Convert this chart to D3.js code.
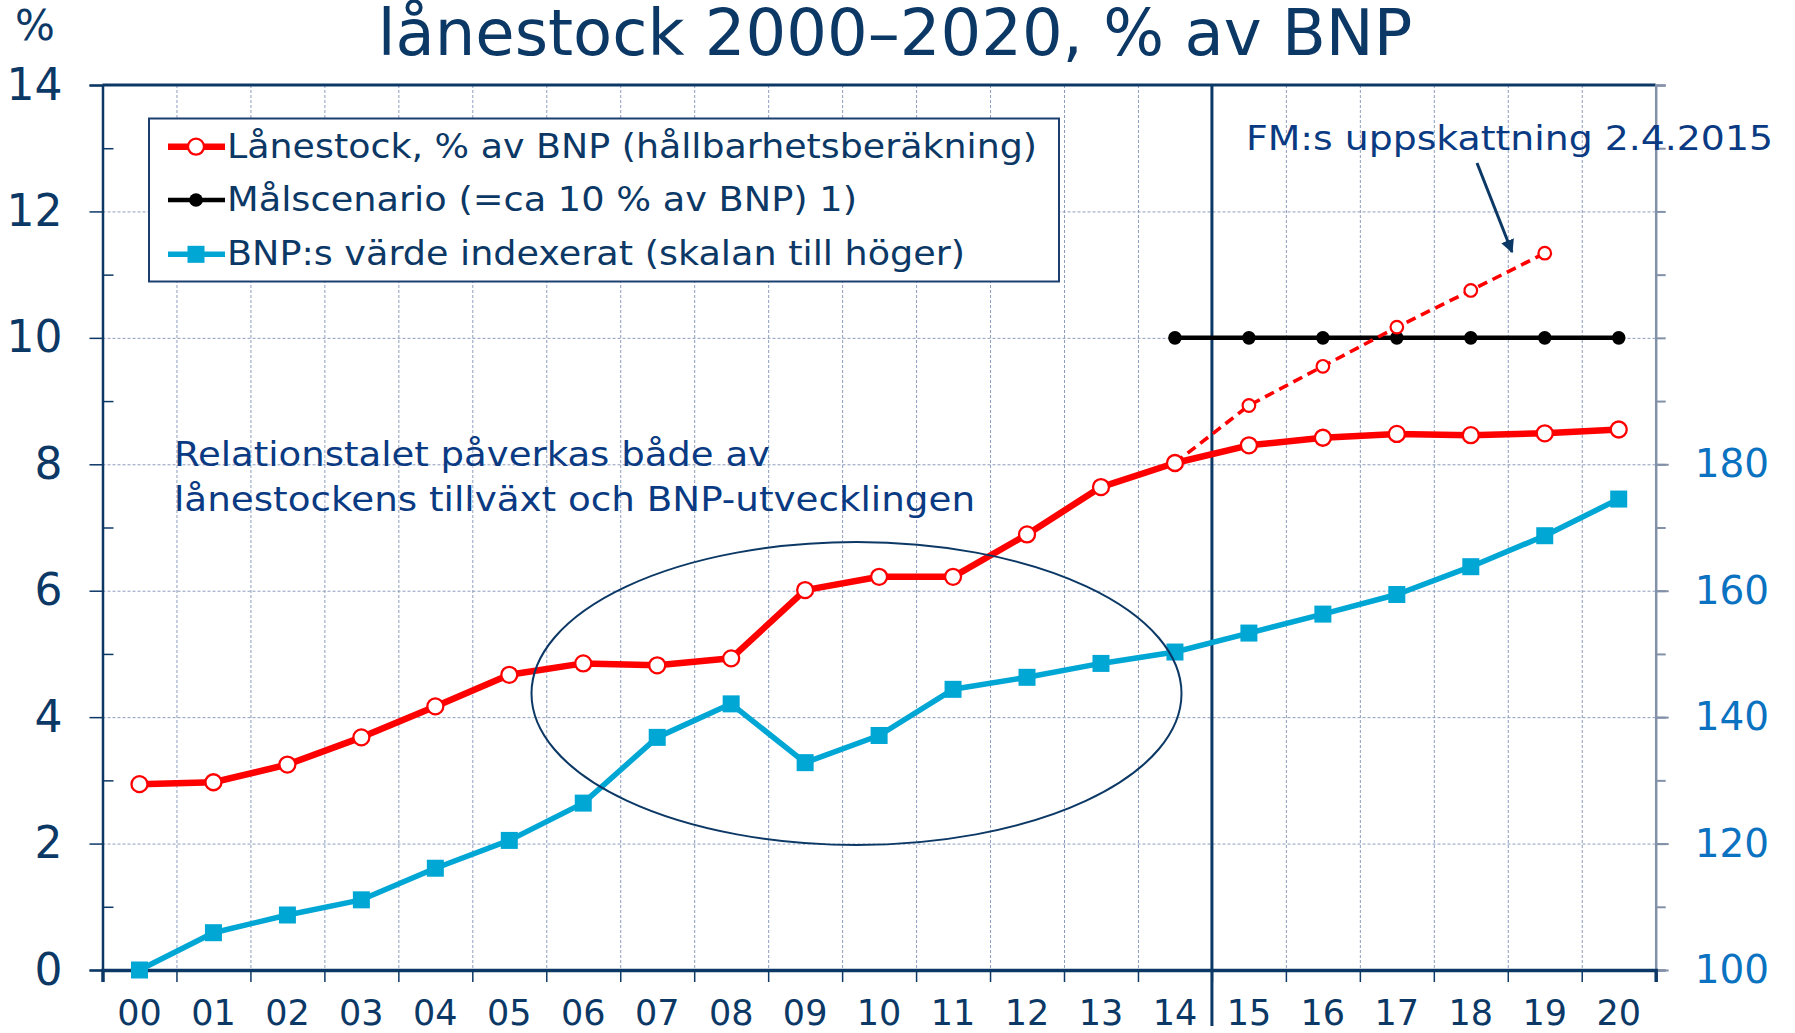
<!DOCTYPE html>
<html><head><meta charset="utf-8">
<script src="https://cdn.jsdelivr.net/npm/d3@7"></script>
<style>
html,body{margin:0;padding:0;background:#fff;}
svg{display:block;font-family:"DejaVu Sans",Verdana,sans-serif;}
</style></head>
<body>
<svg id="chart" width="1795" height="1033"></svg>
<script>
// ---- data ----
const years = ["00","01","02","03","04","05","06","07","08","09","10","11","12","13","14","15","16","17","18","19","20"];
const lanestock = [2.94,2.97,3.25,3.68,4.17,4.67,4.85,4.82,4.93,6.01,6.22,6.22,6.89,7.64,8.02,8.30,8.42,8.48,8.46,8.49,8.55];
const fmYears = ["14","15","16","17","18","19"];
const fmEstimate = [8.02,8.93,9.55,10.17,10.75,11.34];
const malYears = ["14","15","16","17","18","19","20"];
const malscenario = [10,10,10,10,10,10,10];
const bnpIndex = [100,105.9,108.7,111.1,116.1,120.5,126.4,136.8,142.1,132.8,137.1,144.4,146.3,148.5,150.3,153.3,156.3,159.4,163.8,168.7,174.5];
const leftTickLabels = [0,2,4,6,8,10,12,14];
const rightTickLabels = [100,120,140,160,180];
const legendLabels = ["Lånestock, % av BNP (hållbarhetsberäkning)","Målscenario (=ca 10 % av BNP) 1)","BNP:s värde indexerat (skalan till höger)"];
const titleText = "lånestock 2000–2020, % av BNP";
const noteLines = ["Relationstalet påverkas både av","lånestockens tillväxt och BNP-utvecklingen"];
const fmLabel = "FM:s uppskattning 2.4.2015";

// ---- layout ----
const L = 102.5, R = 1655.7, T = 85, B = 970;
const navy = "#0c3866", red = "#ff0000", blue = "#00a6d4", rblue = "#0a72c0", grid = "#8d9dbd", txtBlue = "#0a3a82";
const svg = d3.select("#chart");

const x = d3.scaleBand().domain(years).range([L, R]);
const xb = d3.scaleLinear().domain([0, years.length]).range([L, R]);
const y = d3.scaleLinear().domain([0, 14]).range([B, T]);
const yR = d3.scaleLinear().domain([100, 240]).range([B, T]);
const cx = d => x(d) + x.bandwidth() / 2;

// grid
svg.append("g").attr("transform", `translate(0,${T})`)
  .call(d3.axisBottom(xb).tickValues(d3.range(1, years.length)).tickSize(B - T).tickFormat(""))
  .call(g => g.select(".domain").remove())
  .call(g => g.selectAll("line").attr("stroke", grid).attr("stroke-width", 1).attr("stroke-dasharray", "3,2"));
svg.append("g").attr("transform", `translate(${L},0)`)
  .call(d3.axisRight(y).tickValues([2,4,6,8,10,12]).tickSize(R - L).tickFormat(""))
  .call(g => g.select(".domain").remove())
  .call(g => g.selectAll("line").attr("stroke", grid).attr("stroke-width", 1).attr("stroke-dasharray", "3,2"));

// top border
svg.append("line").attr("x1", L).attr("x2", R).attr("y1", T).attr("y2", T).attr("stroke", navy).attr("stroke-width", 3);

// left axis: major outward with labels, minor inward
svg.append("g").attr("transform", `translate(${L},0)`)
  .call(d3.axisLeft(y).tickValues(leftTickLabels).tickSize(13).tickPadding(27).tickFormat(d3.format("d")))
  .call(g => g.select(".domain").attr("stroke", navy).attr("stroke-width", 2.5))
  .call(g => g.selectAll("line").attr("stroke", navy).attr("stroke-width", 1.5))
  .call(g => g.selectAll("text").attr("fill", navy).attr("font-size", 44).attr("font-family", "DejaVu Sans"));
svg.append("g").attr("transform", `translate(${L},0)`)
  .call(d3.axisRight(y).tickValues([1,3,5,7,9,11,13]).tickSize(11).tickFormat(""))
  .call(g => g.select(".domain").remove())
  .call(g => g.selectAll("line").attr("stroke", navy).attr("stroke-width", 1.5));

// right axis
svg.append("g").attr("transform", `translate(${R},0)`)
  .call(d3.axisRight(yR).tickValues(d3.range(100, 241, 10)).tickSize(10).tickFormat(""))
  .call(g => g.select(".domain").attr("stroke", "#8391a8").attr("stroke-width", 2.5))
  .call(g => g.selectAll("line").attr("stroke", "#8391a8").attr("stroke-width", 2));
svg.append("g").attr("transform", `translate(${R},0)`)
  .call(d3.axisRight(yR).tickValues(rightTickLabels).tickSize(13).tickPadding(26))
  .call(g => g.select(".domain").remove())
  .call(g => g.selectAll("line").attr("stroke", "#8391a8").attr("stroke-width", 2))
  .call(g => g.selectAll("text").attr("fill", rblue).attr("font-size", 39).attr("font-family", "DejaVu Sans"));

// bottom axis
svg.append("g").attr("transform", `translate(0,${B})`)
  .call(d3.axisBottom(xb).tickValues(d3.range(0, years.length + 1)).tickSize(12).tickFormat(""))
  .call(g => g.select(".domain").attr("stroke", navy).attr("stroke-width", 3.5))
  .call(g => g.selectAll("line").attr("stroke", navy).attr("stroke-width", 1.5));
svg.append("g").attr("transform", `translate(0,${B})`)
  .call(d3.axisBottom(x).tickSize(0).tickPadding(30))
  .call(g => g.select(".domain").remove())
  .call(g => g.selectAll("text").attr("fill", navy).attr("font-size", 35).attr("font-family", "DejaVu Sans"));

// vertical divider between 14 and 15
svg.append("line").attr("x1", xb(15)).attr("x2", xb(15)).attr("y1", T).attr("y2", 1026)
  .attr("stroke", navy).attr("stroke-width", 3);

// title and labels
svg.append("text").attr("x", 895).attr("y", 55).attr("text-anchor", "middle")
  .attr("font-size", 64).attr("fill", navy).text(titleText);
svg.append("text").attr("x", 15).attr("y", 40).attr("font-size", 42).attr("fill", navy).text("%");

// lines
const line = (xs) => d3.line().x((d, i) => cx(xs[i])).y(d => y(d));
// blue (right scale)
const lineR = d3.line().x((d, i) => cx(years[i])).y(d => yR(d));
svg.append("path").attr("d", lineR(bnpIndex)).attr("fill", "none").attr("stroke", blue).attr("stroke-width", 5.5).attr("stroke-linejoin", "round");
svg.append("g").selectAll("rect").data(bnpIndex).join("rect")
  .attr("x", (d, i) => cx(years[i]) - 8.5).attr("y", d => yR(d) - 8.5).attr("width", 17).attr("height", 17).attr("fill", blue);

// black target
svg.append("path").attr("d", line(malYears)(malscenario)).attr("fill", "none").attr("stroke", "#000").attr("stroke-width", 4.5);
svg.append("g").selectAll("circle").data(malscenario).join("circle")
  .attr("cx", (d, i) => cx(malYears[i])).attr("cy", d => y(d)).attr("r", 6.8).attr("fill", "#000");

// dashed FM estimate
svg.append("path").attr("d", line(fmYears)(fmEstimate)).attr("fill", "none").attr("stroke", red).attr("stroke-width", 3.6).attr("stroke-dasharray", "10,6");
svg.append("g").selectAll("circle").data(fmEstimate.slice(1)).join("circle")
  .attr("cx", (d, i) => cx(fmYears[i + 1])).attr("cy", d => y(d)).attr("r", 6.3)
  .attr("fill", "#fff").attr("stroke", red).attr("stroke-width", 2.2);

// red main
svg.append("path").attr("d", line(years)(lanestock)).attr("fill", "none").attr("stroke", red).attr("stroke-width", 6.5).attr("stroke-linejoin", "round");
svg.append("g").selectAll("circle").data(lanestock).join("circle")
  .attr("cx", (d, i) => cx(years[i])).attr("cy", d => y(d)).attr("r", 8)
  .attr("fill", "#fff").attr("stroke", red).attr("stroke-width", 2.3);

// ellipse
svg.append("ellipse").attr("cx", 856.5).attr("cy", 693.5).attr("rx", 325).attr("ry", 151.5)
  .attr("fill", "none").attr("stroke", navy).attr("stroke-width", 2);

// text helper with target width
function txt(g, x0, y0, t, size, fill, w) {
  return g.append("text").attr("x", x0).attr("y", y0).attr("font-size", size).attr("fill", fill)
    .attr("textLength", w).attr("lengthAdjust", "spacingAndGlyphs").text(t);
}

// annotation text
txt(svg, 174, 466, noteLines[0], 34, txtBlue, 596);
txt(svg, 174, 511, noteLines[1], 34, txtBlue, 801);

// FM label + arrow
txt(svg, 1246, 150, fmLabel, 34, txtBlue, 527);
svg.append("defs").append("marker").attr("id", "arr").attr("viewBox", "0 0 10 10").attr("refX", 9).attr("refY", 5)
  .attr("markerWidth", 4.5).attr("markerHeight", 4.5).attr("orient", "auto")
  .append("path").attr("d", "M0,0 L10,5 L0,10 z").attr("fill", navy);
svg.append("line").attr("x1", 1477).attr("y1", 163).attr("x2", 1512).attr("y2", 252)
  .attr("stroke", navy).attr("stroke-width", 3).attr("marker-end", "url(#arr)");

// legend
const lg = svg.append("g");
lg.append("rect").attr("x", 149).attr("y", 118.5).attr("width", 910).attr("height", 163)
  .attr("fill", "#fff").attr("stroke", "#1d3f70").attr("stroke-width", 2);
const rows = [146.7, 200, 254.3];
const widths = [810, 630, 738];
const lx1 = 168, lx2 = 225, lmx = 196;
lg.append("line").attr("x1", lx1).attr("x2", lx2).attr("y1", rows[0]).attr("y2", rows[0]).attr("stroke", red).attr("stroke-width", 6.5);
lg.append("circle").attr("cx", lmx).attr("cy", rows[0]).attr("r", 8).attr("fill", "#fff").attr("stroke", red).attr("stroke-width", 2.3);
lg.append("line").attr("x1", lx1).attr("x2", lx2).attr("y1", rows[1]).attr("y2", rows[1]).attr("stroke", "#000").attr("stroke-width", 4.5);
lg.append("circle").attr("cx", lmx).attr("cy", rows[1]).attr("r", 6.8).attr("fill", "#000");
lg.append("line").attr("x1", lx1).attr("x2", lx2).attr("y1", rows[2]).attr("y2", rows[2]).attr("stroke", blue).attr("stroke-width", 5.5);
lg.append("rect").attr("x", lmx - 8.5).attr("y", rows[2] - 8.5).attr("width", 17).attr("height", 17).attr("fill", blue);
legendLabels.forEach((t, i) => {
  txt(lg, 227, rows[i] + 11, t, 34, navy, widths[i]);
});
</script>
</body></html>
